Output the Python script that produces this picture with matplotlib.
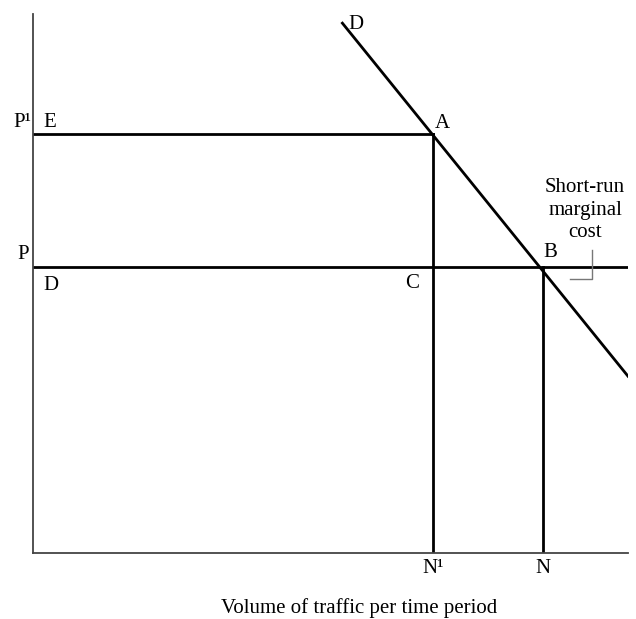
import matplotlib
matplotlib.use('Agg')
import matplotlib.pyplot as plt

# Quantites et prix (axes en unites arbitraires 0-100)
quantites = {'N1': 67.2, 'N': 85.7}
prix = {'P1': 77.8, 'P': 53.1}
demande_q = [52.0, 100.0]
demande_p = [98.3, 32.8]
# petit crochet du cout marginal de court terme
crochet_q = [90.3, 94.0, 94.0]
crochet_p = [50.8, 50.8, 56.3]

plt.rcParams['font.family'] = ['Liberation Serif', 'DejaVu Serif']

fig = plt.figure(figsize=(6.36, 6.19), dpi=100)
ax = fig.add_axes([33 / 636, 66 / 619, 595 / 636, 539 / 619])
ax.set_xlim(0, 100)
ax.set_ylim(0, 100)
ax.set_xticks([])
ax.set_yticks([])
for s in ['top', 'right']:
    ax.spines[s].set_visible(False)
for s in ['left', 'bottom']:
    ax.spines[s].set_color('#444444')
    ax.spines[s].set_linewidth(1.3)

lw = 2.0
N1, N = quantites['N1'], quantites['N']
P1, P = prix['P1'], prix['P']

# droite de demande
ax.plot(demande_q, demande_p, color='black', lw=lw)
# prix P et P1
ax.plot([0, 100], [P, P], color='black', lw=lw)
ax.plot([0, N1], [P1, P1], color='black', lw=lw)
# quantites N1 et N
ax.plot([N1, N1], [0, P1], color='black', lw=lw)
ax.plot([N, N], [0, P], color='black', lw=lw)
# crochet
ax.plot(crochet_q, crochet_p, color='#777777', lw=1.0)

fs = 15
ax.text(-0.3, 79.8, 'P¹', fontsize=fs, ha='right', va='center')
ax.text(1.7, 79.8, 'E', fontsize=fs, ha='left', va='center')
ax.text(-0.6, 55.3, 'P', fontsize=fs, ha='right', va='center')
ax.text(1.7, 49.6, 'D', fontsize=fs, ha='left', va='center')
ax.text(67.6, 79.6, 'A', fontsize=fs, ha='left', va='center')
ax.text(63.7, 50.0, 'C', fontsize=fs, ha='center', va='center')
ax.text(86.9, 55.7, 'B', fontsize=fs, ha='center', va='center')
ax.text(53.0, 98.0, 'D', fontsize=fs, ha='left', va='center')
ax.text(92.8, 63.6, 'Short-run\nmarginal\ncost', fontsize=fs, ha='center', va='center',
        linespacing=1.25)
ax.text(N1, -2.8, 'N¹', fontsize=fs, ha='center', va='center')
ax.text(N, -2.8, 'N', fontsize=fs, ha='center', va='center')
ax.text(54.8, -10.2, 'Volume of traffic per time period', fontsize=fs, ha='center', va='center')

plt.savefig('out.png', dpi=100)
plt.close()
